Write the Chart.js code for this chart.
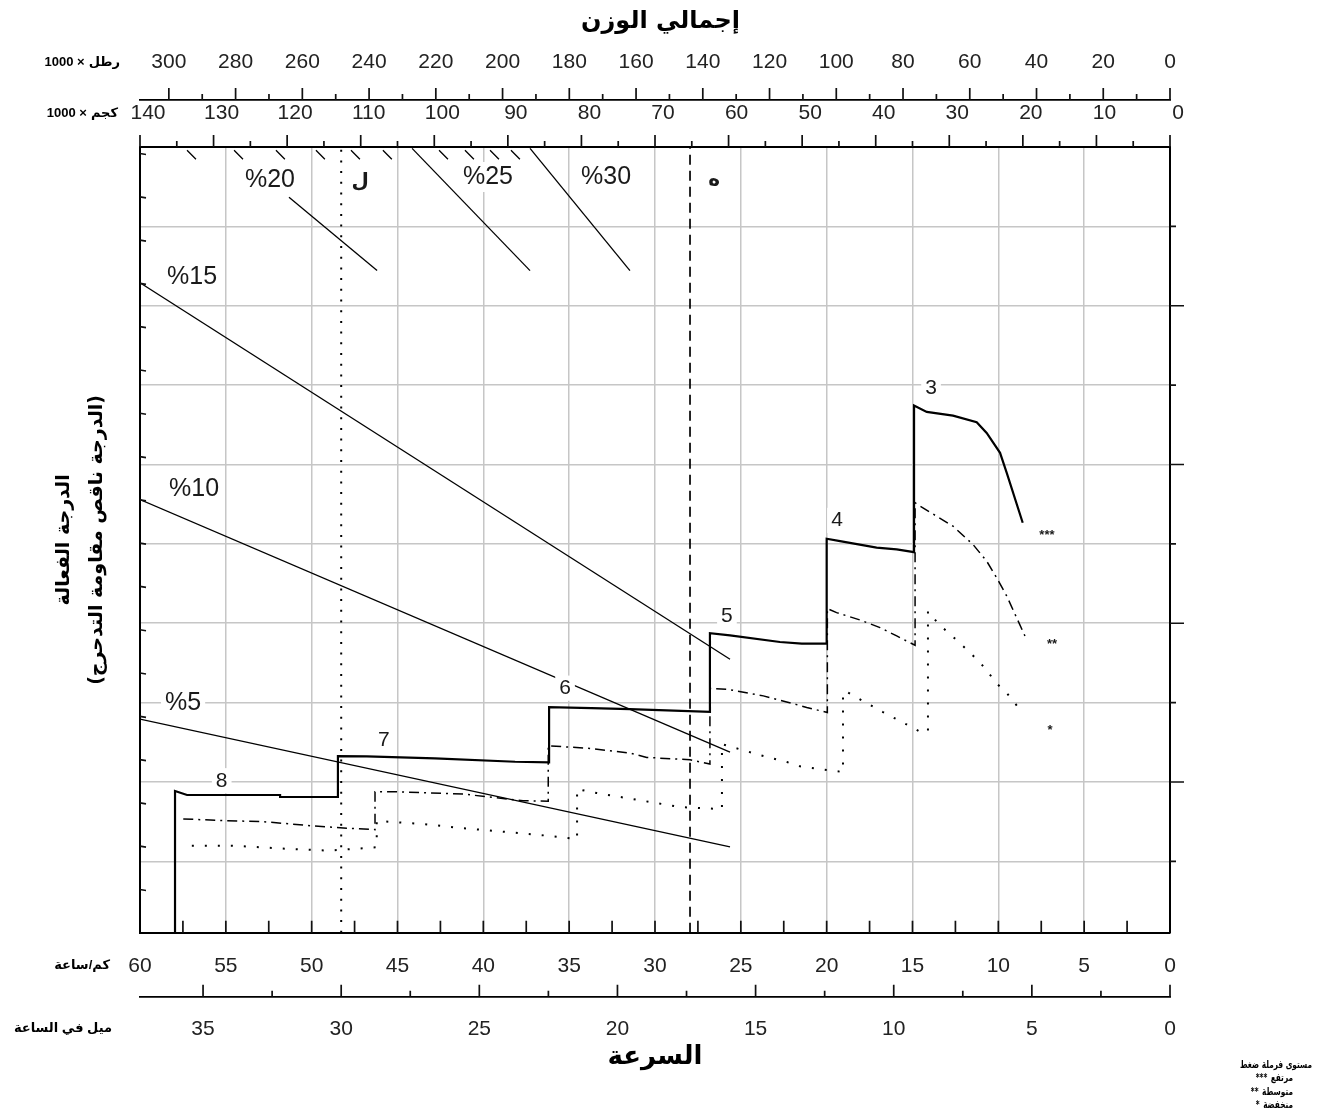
<!DOCTYPE html>
<html lang="ar">
<head>
<meta charset="utf-8">
<title>إجمالي الوزن - السرعة</title>
<script src="https://cdn.jsdelivr.net/npm/chart.js@4.4.1/dist/chart.umd.min.js"></script>
<style>
  html, body { margin: 0; padding: 0; background: #fff; }
  #chart-wrap { width: 1321px; height: 1112px; }
</style>
</head>
<body>
<div id="chart-wrap"><canvas id="gradeability-chart" width="1321" height="1112"></canvas></div>
<script>
//
// Gradeability chart
//

// Step curves: speed (km/h) and effective grade, one pair per brake pressure level
var highSpeed = [57.96, 57.96, 57.26, 51.84, 51.84, 48.47, 48.47, 46.79, 42.82, 38.15, 36.17, 36.17, 33.69, 31.46, 26.80, 26.80, 25.63, 22.72, 21.45, 20.00, 20.00, 19.22, 17.09, 15.92, 14.91, 14.91, 14.17, 12.64, 11.26, 10.68, 9.90, 9.51, 8.58];
var highGrade = [1, 18.86, 18.36, 18.36, 18.11, 18.11, 23.26, 23.23, 22.97, 22.55, 22.47, 29.43, 29.30, 29.18, 28.84, 38.74, 38.48, 37.64, 37.44, 37.44, 50.65, 50.35, 49.52, 49.30, 48.96, 67.42, 66.62, 66.16, 65.32, 63.98, 61.47, 58.95, 52.66];

var mediumSpeed = [57.48, 54.95, 52.82, 50.10, 47.96, 46.31, 46.31, 45.05, 41.18, 37.69, 36.22, 36.22, 33.79, 31.46, 30.48, 27.96, 26.80, 26.80, 25.82, 23.69, 22.33, 21.16, 19.96, 19.96, 19.42, 18.06, 16.89, 15.92, 14.85, 14.85, 14.56, 12.64, 11.48, 10.68, 10.10, 9.51, 8.45];
var mediumGrade = [15.34, 15.13, 15.00, 14.50, 14.17, 14.00, 18.77, 18.77, 18.48, 17.64, 17.57, 24.56, 24.23, 23.64, 23.10, 22.80, 22.26, 31.78, 31.69, 30.85, 30.09, 29.39, 28.76, 41.84, 41.34, 40.41, 39.45, 38.40, 37.23, 55.18, 54.75, 52.23, 49.93, 47.83, 45.74, 43.43, 38.40];

var lowSpeed = [56.98, 54.60, 51.36, 48.99, 46.21, 46.21, 43.50, 41.16, 38.84, 36.31, 34.54, 34.54, 33.40, 29.24, 28.60, 26.33, 26.10, 26.10, 23.88, 22.31, 21.55, 19.05, 19.05, 18.83, 16.72, 15.38, 14.56, 14.10, 14.10, 13.46, 12.23, 11.07, 10.05, 9.50, 8.53];
var lowGrade = [11.98, 11.98, 11.57, 11.35, 11.78, 15.09, 14.71, 14.17, 13.74, 13.24, 12.82, 19.11, 18.61, 17.10, 16.85, 16.60, 16.60, 24.77, 23.39, 22.51, 21.97, 21.25, 31.35, 31.35, 28.80, 27.29, 26.32, 26.32, 41.50, 39.87, 37.48, 35.09, 32.32, 31.19, 28.55];

// Grade lines
var gradeNames = ['%5', '%10', '%15', '%20', '%25', '%30'];
var gradeFromSpeed = [60, 60, 60, 51.32, 44.15, 37.28];
var gradeFromValue = [27.92, 55.59, 82.89, 93.67, 99.83, 99.83];
var gradeToSpeed = [25.63, 25.63, 25.63, 46.19, 37.28, 31.46];
var gradeToValue = [11.82, 23.77, 35.47, 84.43, 84.43, 84.43];
var gradeLabelSpeed = [57.49, 56.85, 56.97, 52.43, 39.73, 32.85];
var gradeLabelValue = [29.93, 56.85, 83.64, 95.84, 96.22, 96.22];

// Short grade marks under the top axis
var hatchSpeed = [57.26, 54.52, 52.08, 49.75, 47.71, 45.85, 42.58, 41.07, 39.61, 38.39];

// Gear numbers
var gearNames = ['3', '4', '5', '6', '7', '8'];
var gearLabelSpeed = [13.92, 19.40, 25.81, 35.24, 45.79, 55.24];
var gearLabelValue = [69.55, 52.95, 40.87, 31.82, 25.28, 20.16];

// Brake pressure marks at the curve ends
var brakeNames = ['***', '**', '*'];
var brakeLabelSpeed = [7.17, 6.87, 6.99];
var brakeLabelValue = [51.44, 37.73, 26.91];

// Reference speeds
var refNames = ['ل', 'ه'];
var refSpeed = [48.28, 27.96];
var refLabelSpeed = [47.18, 26.56];
var refLabelValue = [95.59, 95.72];

// Axis ticks
var kmhTicks = [0, 5, 10, 15, 20, 25, 30, 35, 40, 45, 50, 55, 60];
var mphTicks = [0, 5, 10, 15, 20, 25, 30, 35];
var tonTicks = [0, 10, 20, 30, 40, 50, 60, 70, 80, 90, 100, 110, 120, 130, 140];
var lbTicks = [0, 20, 40, 60, 80, 100, 120, 140, 160, 180, 200, 220, 240, 260, 280, 300];
var gradeGrid = [10, 20, 30, 40, 50, 60, 70, 80, 90];

// Texts
var titleText = 'إجمالي الوزن';
var speedTitle = 'السرعة';
var gradeTitle = ['الدرجة الفعالة', '(الدرجة ناقص مقاومة التدحرج)'];
var unitFactor = '1000 ×';
var unitLb = 'رطل';
var unitTon = 'كجم';
var unitKmh = 'كم/ساعة';
var unitMph = 'ميل في الساعة';
var legendTitle = 'مستوى فرملة ضغط';
var legendMarks = ['***', '**', '*'];
var legendWords = ['مرتفع', 'متوسطة', 'منخفضة'];

var GradeChart = (function() {

	//
	// Variables
	//

	var canvas = document.getElementById('gradeability-chart');
	var KMH_MAX = 60;
	var MPH_MAX = KMH_MAX / 1.609344;
	var TON_MAX = 140;
	var LB_MAX = TON_MAX * 2.20462;
	var gridColor = '#c6c6c6';
	var ink = '#111';
	var latin = '"Liberation Sans", Arial, sans-serif';
	var arabic = '"DejaVu Sans", sans-serif';


	//
	// Methods
	//

	function toPoints(xs, ys) {
		return xs.map(function(x, i) { return { x: x, y: ys[i] }; });
	}

	function fixTicks(values) {
		return function(scale) {
			scale.ticks = values.map(function(v) { return { value: v }; });
		};
	}

	function lineSet(data, width, dash) {
		return {
			data: data,
			showLine: true,
			borderColor: '#000',
			borderWidth: width,
			borderDash: dash || [],
			pointRadius: 0,
			fill: false,
			tension: 0
		};
	}

	function buildDatasets() {
		var sets = [];

		// grade lines
		gradeNames.forEach(function(name, i) {
			sets.push(lineSet([
				{ x: gradeFromSpeed[i], y: gradeFromValue[i] },
				{ x: gradeToSpeed[i], y: gradeToValue[i] }
			], 1.3));
		});

		// small marks under the top edge
		var hatch = [];
		hatchSpeed.forEach(function(v) {
			hatch.push({ x: v, y: 99.6 });
			hatch.push({ x: v - 0.52, y: 98.45 });
			hatch.push({ x: v - 0.26, y: null });
		});
		sets.push(lineSet(hatch, 1.3));

		// reference speeds
		sets.push(lineSet([{ x: refSpeed[0], y: 1 }, { x: refSpeed[0], y: 100 }], 2, [2, 8.7]));
		sets.push(lineSet([{ x: refSpeed[1], y: 1 }, { x: refSpeed[1], y: 100 }], 1.7, [10, 6]));

		// brake pressure curves
		sets.push(lineSet(toPoints(lowSpeed, lowGrade), 2, [2, 11]));
		sets.push(lineSet(toPoints(mediumSpeed, mediumGrade), 1.5, [10, 5, 2, 5]));
		sets.push(lineSet(toPoints(highSpeed, highGrade), 2.2));

		return sets;
	}

	function buildTags() {
		var tags = [];
		gradeNames.forEach(function(t, i) {
			tags.push({ text: t, x: gradeLabelSpeed[i], y: gradeLabelValue[i], size: 25, font: '25px ' + latin });
		});
		refNames.forEach(function(t, i) {
			tags.push({ text: t, x: refLabelSpeed[i], y: refLabelValue[i], size: 20, font: 'bold 20px ' + arabic });
		});
		gearNames.forEach(function(t, i) {
			tags.push({ text: t, x: gearLabelSpeed[i], y: gearLabelValue[i], size: 21, font: '21px ' + latin });
		});
		brakeNames.forEach(function(t, i) {
			tags.push({ text: t, x: brakeLabelSpeed[i], y: brakeLabelValue[i], size: 13, font: 'bold 13px ' + latin, dy: 3 });
		});
		return tags;
	}

	// tick marks of every axis (lengths differ per tick, so drawn here)
	var tickMarks = {
		id: 'tickMarks',
		afterDraw: function(chart) {
			var ctx = chart.ctx, a = chart.chartArea, s = chart.scales, v, p, len;
			ctx.save();
			ctx.strokeStyle = ink;
			ctx.lineWidth = 1.7;
			ctx.beginPath();
			for (v = 2.5; v < KMH_MAX; v += 2.5) {
				p = s.x.getPixelForValue(v);
				ctx.moveTo(p, a.bottom); ctx.lineTo(p, a.bottom - 12);
			}
			for (v = 0; v <= 35; v += 2.5) {
				p = s.xMph.getPixelForValue(v);
				len = v % 5 === 0 ? 12 : 6;
				ctx.moveTo(p, s.xMph.top); ctx.lineTo(p, s.xMph.top - len);
			}
			for (v = 0; v <= TON_MAX; v += 5) {
				p = s.xKg.getPixelForValue(v);
				len = v % 10 === 0 ? 12 : 6;
				ctx.moveTo(p, a.top); ctx.lineTo(p, a.top - len);
			}
			for (v = 0; v <= 300; v += 10) {
				p = s.xLb.getPixelForValue(v);
				len = v % 20 === 0 ? 12 : 6;
				ctx.moveTo(p, s.xLb.bottom); ctx.lineTo(p, s.xLb.bottom - len);
			}
			gradeGrid.forEach(function(g) {
				var py = s.y.getPixelForValue(g);
				ctx.moveTo(a.right, py); ctx.lineTo(a.right + (g % 20 === 0 ? 14 : 6), py);
			});
			for (v = 1; v <= 18; v++) {
				p = s.yt.getPixelForValue(v);
				ctx.moveTo(a.left, p); ctx.lineTo(a.left + 6, p + 1);
			}
			ctx.stroke();
			ctx.restore();
		}
	};

	// labels inside the plot, on white boxes
	var tagLabels = {
		id: 'tagLabels',
		afterDatasetsDraw: function(chart) {
			var ctx = chart.ctx, sx = chart.scales.x, sy = chart.scales.y;
			buildTags().forEach(function(t) {
				var px = sx.getPixelForValue(t.x), py = sy.getPixelForValue(t.y);
				ctx.save();
				ctx.font = t.font;
				ctx.textAlign = 'center';
				ctx.textBaseline = 'middle';
				var w = ctx.measureText(t.text).width;
				ctx.fillStyle = '#fff';
				ctx.fillRect(px - w / 2 - 4, py - t.size * 0.6, w + 8, t.size * 1.2);
				ctx.fillStyle = '#1a1a1a';
				ctx.fillText(t.text, px, py + (t.dy || 0));
				ctx.restore();
			});
		}
	};

	// right-aligned word with a latin prefix placed on its left
	function pairText(ctx, prefix, word, right, y, gap) {
		ctx.textAlign = 'right';
		ctx.fillText(word, right, y);
		var w = ctx.measureText(word).width;
		ctx.fillText(prefix, right - w - gap, y);
	}

	// unit names beside the axes and the brake legend
	var sideTexts = {
		id: 'sideTexts',
		afterDraw: function(chart) {
			var ctx = chart.ctx, a = chart.chartArea, s = chart.scales;
			ctx.save();
			ctx.fillStyle = '#000';
			ctx.textBaseline = 'middle';
			ctx.font = 'bold 13px "Liberation Sans", "DejaVu Sans", sans-serif';
			pairText(ctx, unitFactor, unitLb, a.left - 20, s.xLb.bottom - 38, 4);
			pairText(ctx, unitFactor, unitTon, a.left - 22, a.top - 34, 4);
			ctx.textAlign = 'right';
			ctx.fillText(unitKmh, a.left - 30, a.bottom + 33);
			ctx.fillText(unitMph, a.left - 28, s.xMph.top + 32);

			// legend, narrow lettering
			ctx.translate(a.right + 142, s.xMph.top + 68);
			ctx.scale(0.7, 1);
			ctx.font = 'bold 10.5px ' + arabic;
			ctx.textAlign = 'right';
			ctx.fillText(legendTitle, 0, 0);
			for (var i = 0; i < legendWords.length; i++) {
				pairText(ctx, legendMarks[i], legendWords[i], -19 / 0.7, 13.5 + i * 13.5, 5);
			}
			ctx.restore();
		}
	};

	// Init chart
	function initChart(canvas) {

		Chart.defaults.font.family = latin;

		var tickFont = { family: latin, size: 21 };

		var chart = new Chart(canvas, {
			type: 'scatter',
			data: { datasets: buildDatasets() },
			options: {
				responsive: false,
				maintainAspectRatio: false,
				devicePixelRatio: 1,
				animation: false,
				events: [],
				layout: { padding: { left: 0, right: 0, top: 0, bottom: 35.6 } },
				plugins: {
					legend: { display: false },
					tooltip: { enabled: false },
					title: {
						display: true,
						text: titleText,
						color: '#000',
						font: { family: arabic, size: 24, weight: 'bold' },
						padding: { top: 7.6, bottom: 8.6 }
					}
				},
				scales: {
					x: {
						type: 'linear', position: 'bottom', weight: 0,
						min: 0, max: KMH_MAX, reverse: true,
						afterBuildTicks: fixTicks(kmhTicks),
						afterFit: function(scale) { scale.height = 64; },
						grid: {
							color: function(c) { return c.tick && c.tick.value > 0 && c.tick.value < KMH_MAX ? gridColor : 'rgba(0,0,0,0)'; },
							lineWidth: 1.5, drawTicks: false
						},
						border: { display: true, color: '#000', width: 2 },
						ticks: { font: tickFont, color: '#222', padding: 20.4, autoSkip: false, maxRotation: 0, callback: function(v) { return String(v); } }
					},
					xMph: {
						type: 'linear', position: 'bottom', weight: 1,
						min: 0, max: MPH_MAX, reverse: true,
						afterBuildTicks: fixTicks(mphTicks),
						afterFit: function(scale) { scale.height = 79.6; },
						grid: { drawOnChartArea: false, drawTicks: false },
						border: { display: true, color: '#000', width: 1.8 },
						ticks: { font: tickFont, color: '#222', padding: 19.4, autoSkip: false, maxRotation: 0, callback: function(v) { return String(v); } },
						title: { display: true, text: speedTitle, color: '#000', font: { family: arabic, size: 26, weight: 'bold' }, padding: { top: 0, bottom: 4 } }
					},
					xKg: {
						type: 'linear', position: 'top', weight: 0,
						min: 0, max: TON_MAX, reverse: true,
						afterBuildTicks: fixTicks(tonTicks),
						afterFit: function(scale) { scale.height = 47; },
						grid: { drawOnChartArea: false, drawTicks: false },
						border: { display: true, color: '#000', width: 2 },
						ticks: { font: tickFont, color: '#222', padding: 21.4, labelOffset: 8, autoSkip: false, maxRotation: 0, callback: function(v) { return String(v); } }
					},
					xLb: {
						type: 'linear', position: 'top', weight: 1,
						min: 0, max: LB_MAX, reverse: true,
						afterBuildTicks: fixTicks(lbTicks),
						afterFit: function(scale) { scale.height = 55; },
						grid: { drawOnChartArea: false, drawTicks: false },
						border: { display: true, color: '#000', width: 1.8 },
						ticks: { font: tickFont, color: '#222', padding: 25.4, autoSkip: false, maxRotation: 0, callback: function(v) { return String(v); } }
					},
					y: {
						type: 'linear', position: 'left',
						min: 1, max: 100,
						afterBuildTicks: fixTicks(gradeGrid),
						afterFit: function(scale) { scale.width = 140; },
						grid: { color: gridColor, lineWidth: 1.5, drawTicks: false },
						border: { display: true, color: '#000', width: 2 },
						ticks: { display: false },
						title: {
							display: true,
							text: gradeTitle,
							color: '#000',
							font: { family: arabic, size: 19, weight: 'bold', lineHeight: 1.75 },
							padding: { top: 47.4, bottom: 0 }
						}
					},
					yRight: {
						type: 'linear', position: 'right',
						min: 1, max: 100,
						afterBuildTicks: fixTicks(gradeGrid),
						afterFit: function(scale) { scale.width = 151; },
						grid: { drawOnChartArea: false, drawTicks: false },
						border: { display: true, color: '#000', width: 2 },
						ticks: { display: false }
					},
					yt: {
						type: 'linear', position: 'left', display: false,
						min: 0, max: 18.15
					}
				}
			},
			plugins: [tagLabels, tickMarks, sideTexts]
		});

		return chart;
	}

	if (canvas) {
		return initChart(canvas);
	}

})();
</script>
</body>
</html>
